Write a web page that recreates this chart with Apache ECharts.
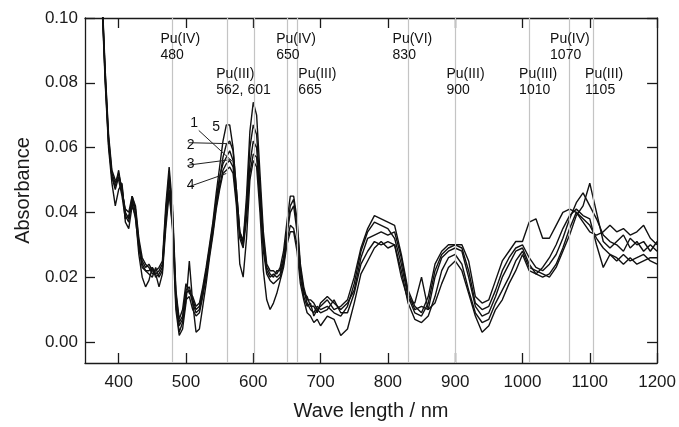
<!DOCTYPE html>
<html>
<head>
<meta charset="utf-8">
<script src="https://cdn.jsdelivr.net/npm/echarts@6/dist/echarts.min.js"></script>
<style>
html,body{margin:0;padding:0;background:#fff;}
#c{width:679px;height:427px;}
</style>
</head>
<body>
<div id="c"></div>
<script>
// ---- data ----
const wavelength = [375,380,385,390,395,400,405,410,415,420,425,430,435,440,445,450,455,460,465,470,
475,480,485,490,495,500,505,510,515,520,525,530,535,540,545,550,555,560,565,570,
575,580,585,590,595,600,605,610,615,620,625,630,635,640,645,650,655,660,665,670,
675,680,685,690,695,700,
710,720,730,740,750,760,770,780,790,800,810,820,830,840,850,860,870,880,890,900,
910,920,930,940,950,960,970,980,990,1000,1010,1020,1030,1040,1050,1060,1070,1080,1090,1100,
1110,1120,1130,1140,1150,1160,1170,1180,1190,1200];

const abs1 = [0.108,0.083,0.063,0.052,0.049,0.052,0.047,0.040,0.038,0.044,
0.040,0.030,0.025,0.023,0.024,0.022,0.021,0.022,0.024,0.040,
0.052,0.040,0.015,0.006,0.008,0.016,0.017,0.013,0.010,0.011,
0.016,0.022,0.029,0.036,0.044,0.051,0.055,0.057,0.059,0.056,
0.045,0.033,0.030,0.040,0.055,0.062,0.060,0.045,0.030,0.022,
0.020,0.021,0.020,0.021,0.025,0.033,0.040,0.042,0.034,0.022,
0.016,0.012,0.010,0.009,0.011,0.010,
0.011,0.009,0.008,0.011,0.018,0.028,0.034,0.037,0.036,0.035,
0.032,0.024,0.014,0.009,0.008,0.012,0.022,0.027,0.029,0.030,
0.029,0.022,0.012,0.010,0.011,0.016,0.022,0.026,0.029,0.030,
0.026,0.023,0.022,0.024,0.027,0.032,0.038,0.043,0.046,0.042,
0.038,0.033,0.031,0.030,0.028,0.032,0.030,0.031,0.028,0.031];

const abs2 = [0.107,0.081,0.061,0.051,0.047,0.051,0.048,0.039,0.037,0.045,
0.041,0.031,0.024,0.022,0.022,0.023,0.020,0.021,0.023,0.038,
0.050,0.038,0.014,0.005,0.007,0.015,0.016,0.012,0.009,0.010,
0.015,0.021,0.028,0.035,0.043,0.050,0.057,0.061,0.062,0.059,
0.047,0.034,0.031,0.042,0.060,0.067,0.064,0.048,0.032,0.023,
0.021,0.020,0.022,0.022,0.026,0.034,0.042,0.044,0.036,0.023,
0.015,0.014,0.011,0.011,0.009,0.012,
0.014,0.012,0.010,0.012,0.016,0.026,0.032,0.033,0.034,0.033,
0.034,0.026,0.015,0.010,0.011,0.010,0.020,0.026,0.028,0.029,
0.028,0.020,0.011,0.008,0.009,0.014,0.020,0.024,0.028,0.029,
0.024,0.021,0.020,0.021,0.024,0.029,0.035,0.040,0.038,0.036,
0.032,0.029,0.027,0.025,0.027,0.025,0.026,0.027,0.025,0.024];

const abs3 = [0.109,0.084,0.064,0.053,0.050,0.050,0.045,0.038,0.039,0.043,
0.038,0.029,0.023,0.022,0.021,0.020,0.023,0.020,0.022,0.037,
0.047,0.036,0.012,0.003,0.006,0.013,0.014,0.010,0.008,0.009,
0.014,0.020,0.027,0.034,0.042,0.048,0.053,0.055,0.056,0.054,
0.044,0.032,0.029,0.038,0.052,0.058,0.057,0.043,0.028,0.021,
0.019,0.018,0.019,0.020,0.024,0.031,0.036,0.035,0.030,0.020,
0.014,0.011,0.012,0.008,0.010,0.009,
0.010,0.013,0.009,0.009,0.015,0.024,0.028,0.031,0.030,0.031,
0.030,0.022,0.012,0.007,0.006,0.008,0.014,0.022,0.026,0.027,
0.024,0.016,0.009,0.006,0.007,0.012,0.016,0.020,0.025,0.028,
0.023,0.022,0.021,0.020,0.023,0.028,0.033,0.039,0.042,0.049,
0.040,0.031,0.029,0.031,0.033,0.029,0.031,0.028,0.030,0.028];

const abs4 = [0.106,0.080,0.060,0.049,0.042,0.047,0.049,0.037,0.035,0.042,
0.039,0.027,0.020,0.017,0.019,0.023,0.021,0.017,0.021,0.035,
0.046,0.035,0.010,0.002,0.004,0.012,0.025,0.012,0.003,0.004,
0.011,0.018,0.026,0.033,0.041,0.047,0.052,0.053,0.054,0.052,
0.042,0.024,0.020,0.032,0.050,0.056,0.054,0.040,0.022,0.013,
0.010,0.012,0.015,0.019,0.023,0.030,0.034,0.034,0.028,0.018,
0.013,0.009,0.008,0.006,0.007,0.005,
0.008,0.007,0.002,0.004,0.012,0.021,0.025,0.029,0.031,0.029,
0.030,0.020,0.013,0.012,0.020,0.010,0.012,0.018,0.023,0.025,
0.022,0.015,0.008,0.003,0.005,0.010,0.013,0.018,0.022,0.027,
0.022,0.021,0.023,0.026,0.030,0.035,0.039,0.041,0.039,0.038,
0.030,0.023,0.027,0.026,0.024,0.026,0.024,0.025,0.026,0.026];

const abs5 = [0.108,0.082,0.062,0.051,0.048,0.053,0.046,0.041,0.040,0.045,
0.042,0.032,0.026,0.024,0.023,0.021,0.022,0.023,0.025,0.042,
0.054,0.042,0.016,0.007,0.010,0.018,0.015,0.014,0.011,0.012,
0.017,0.023,0.030,0.037,0.046,0.054,0.062,0.067,0.067,0.060,
0.047,0.034,0.031,0.045,0.065,0.074,0.070,0.052,0.034,0.024,
0.022,0.022,0.021,0.023,0.028,0.037,0.045,0.045,0.038,0.024,
0.017,0.013,0.013,0.012,0.010,0.011,
0.013,0.010,0.011,0.013,0.020,0.029,0.035,0.039,0.038,0.037,
0.036,0.027,0.016,0.011,0.009,0.014,0.024,0.028,0.030,0.030,
0.030,0.025,0.014,0.012,0.013,0.019,0.025,0.028,0.031,0.031,
0.037,0.038,0.032,0.032,0.036,0.040,0.041,0.040,0.037,0.034,
0.033,0.034,0.036,0.034,0.035,0.033,0.034,0.036,0.032,0.030];

const xTicks = [400,500,600,700,800,900,1000,1100,1200];
const yTicks = [0.00,0.02,0.04,0.06,0.08,0.10];
const markerLines = [480,562,601,650,665,830,900,1010,1070,1105];

// annotation texts (anchored by top-left in data coordinates)
const annText = ['Pu(IV)\n480','Pu(III)\n562, 601','Pu(IV)\n650','Pu(III)\n665','Pu(VI)\n830',
                 'Pu(III)\n900','Pu(III)\n1010','Pu(IV)\n1070','Pu(III)\n1105'];
const annX = [462,545,634,667,807,887,995,1041,1093];
const annY = [0.0958,0.0850,0.0958,0.0850,0.0958,0.0850,0.0850,0.0958,0.0850];

// curve number labels
const numText = ['1','5','2','3','4'];
const numX = [512,545,507,507,507];
const numY = [0.0675,0.0663,0.0607,0.0548,0.0483];

// leader lines: [x0,y0,x1,y1]
const leaders = [
  [519,0.0653,569,0.0557],
  [504,0.0615,567,0.0612],
  [504,0.0546,567,0.0563],
  [504,0.0479,560,0.0520]
];

// ---- chart ----
const FONT = '"Liberation Sans", Arial, Helvetica, sans-serif';
const AX = '#1a1a1a';
const chart = echarts.init(document.getElementById('c'));

function axisCommon(){
  return {
    axisLine:{show:true,onZero:false,lineStyle:{color:AX,width:1.3}},
    splitLine:{show:false}
  };
}

const curves = [abs1,abs2,abs3,abs4,abs5].map((arr,k)=>({
  type:'line', name:'c'+(k+1), xAxisIndex:0, yAxisIndex:0,
  data: wavelength.map((w,i)=>[w,arr[i]]),
  showSymbol:false, symbol:'none', clip:true, z:3,
  lineStyle:{color:'#111',width:1.4}, silent:true
}));

const option = {
  animation:false,
  backgroundColor:'#fff',
  grid:{left:85,right:20,top:18,bottom:64,containLabel:false},
  xAxis:[
    Object.assign(axisCommon(),{
      type:'value',min:350,max:1200,position:'bottom',
      name:'Wave length / nm',nameLocation:'middle',nameGap:38,
      nameTextStyle:{fontSize:20,color:AX,fontFamily:FONT},
      axisTick:{show:true,inside:true,length:10,customValues:xTicks,lineStyle:{color:AX,width:1.3}},
      axisLabel:{show:true,customValues:xTicks,fontSize:17,color:AX,fontFamily:FONT,margin:11,
                 formatter:v=>String(v)}
    }),
    Object.assign(axisCommon(),{
      type:'value',min:350,max:1200,position:'top',
      axisTick:{show:true,inside:true,length:10,customValues:xTicks,lineStyle:{color:AX,width:1.3}},
      axisLabel:{show:false}
    })
  ],
  yAxis:[
    Object.assign(axisCommon(),{
      type:'value',min:-0.0065,max:0.10,position:'left',
      name:'Absorbance',nameLocation:'middle',nameGap:52,
      nameTextStyle:{fontSize:20,color:AX,fontFamily:FONT},
      axisTick:{show:true,inside:true,length:10,customValues:yTicks,lineStyle:{color:AX,width:1.3}},
      axisLabel:{show:true,customValues:yTicks,fontSize:17,color:AX,fontFamily:FONT,margin:7,
                 formatter:v=>Number(v).toFixed(2)}
    }),
    Object.assign(axisCommon(),{
      type:'value',min:-0.0065,max:0.10,position:'right',
      axisTick:{show:true,inside:true,length:10,customValues:yTicks,lineStyle:{color:AX,width:1.3}},
      axisLabel:{show:false}
    })
  ],
  series:[
    {
      type:'line',data:[],z:1,silent:true,
      markLine:{
        silent:true,symbol:['none','none'],label:{show:false},animation:false,
        lineStyle:{color:'#c4c4c4',type:'solid',width:1.2},
        emphasis:{disabled:true},
        data:markerLines.map(x=>({xAxis:x}))
      }
    },
    ...curves,
    {
      type:'scatter',symbolSize:0,z:5,silent:true,itemStyle:{opacity:1},
      data:annText.map((t,i)=>({value:[annX[i],annY[i]],name:t})),
      label:{show:true,position:[0,0],align:'left',verticalAlign:'top',opacity:1,
             formatter:'{b}',fontSize:14,lineHeight:16,color:'#111',fontFamily:FONT}
    },
    {
      type:'scatter',symbolSize:0,z:5,silent:true,itemStyle:{opacity:1},
      data:numText.map((t,i)=>({value:[numX[i],numY[i]],name:t})),
      label:{show:true,position:[0,0],align:'center',verticalAlign:'middle',opacity:1,
             formatter:'{b}',fontSize:14,color:'#111',fontFamily:FONT}
    },
    ...leaders.map(l=>({
      type:'line',data:[[l[0],l[1]],[l[2],l[3]]],showSymbol:false,symbol:'none',z:4,silent:true,
      lineStyle:{color:'#222',width:1}
    }))
  ]
};
chart.setOption(option);
</script>
</body>
</html>
